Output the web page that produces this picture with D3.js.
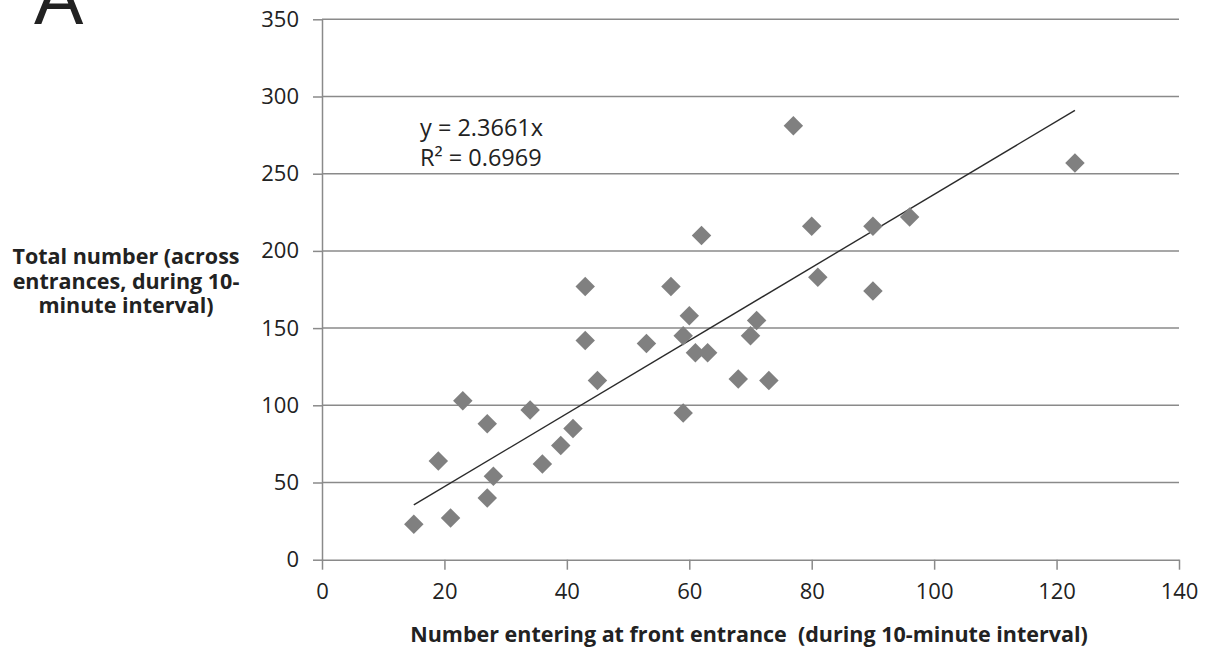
<!DOCTYPE html>
<html lang="en">
  <head>
    <meta charset="utf-8">
    <title>Front entrance vs total</title>
    <script src="https://d3js.org/d3.v7.js"></script>
    <style>
      body { margin: 0; background: #fff; }
      text { font-family: "Open Sans", sans-serif; fill: #222; white-space: pre; }
    </style>
  </head>
  <body>
    <script>

  // width and height
  var w = 1208;
  var h = 653;
  var margin = {top: 19.3, right: 29, bottom: 93.3, left: 322};

  // data
  var frontEntrance = [15, 19, 21, 23, 27, 27, 28, 34, 36, 39, 41, 43, 43, 45, 53, 57, 59,
                       59, 60, 61, 63, 62, 68, 70, 71, 73, 77, 80, 81, 90, 90, 96, 123];
  var totalNumber = [23, 64, 27, 103, 88, 40, 54, 97, 62, 74, 85, 142, 177, 116, 140, 177, 145,
                     95, 158, 134, 134, 210, 117, 145, 155, 116, 281, 216, 183, 216, 174, 222, 257];
  var xTicks = [0, 20, 40, 60, 80, 100, 120, 140];
  var yTicks = [0, 50, 100, 150, 200, 250, 300, 350];
  var slope = 2.3661;
  var equationLines = ["y = 2.3661x", "R² = 0.6969"];
  var yTitleLines = ["Total number (across", "entrances, during 10-", "minute interval)"];
  var xTitle = "Number entering at front entrance  (during 10-minute interval)";

  var points = frontEntrance.map((x, i) => ({x: x, y: totalNumber[i]}));

  // scales
  var xScale = d3.scaleLinear()
    .domain([0, 140])
    .range([margin.left, w - margin.right]);

  var yScale = d3.scaleLinear()
    .domain([0, 350])
    .range([h - margin.bottom, margin.top]);

  var svg = d3.select("body")
    .append("svg")
    .attr("width", w)
    .attr("height", h);

  // horizontal gridlines
  svg.append("g")
    .selectAll("line")
    .data(yTicks.slice(1))
    .enter()
    .append("line")
    .attr("x1", xScale(0))
    .attr("x2", xScale(140))
    .attr("y1", d => yScale(d))
    .attr("y2", d => yScale(d))
    .attr("stroke", "#8a8a8a")
    .attr("stroke-width", 1.5);

  // axes
  var xAxis = d3.axisBottom(xScale)
    .tickValues(xTicks)
    .tickSizeInner(10)
    .tickSizeOuter(0)
    .tickPadding(14);

  var yAxis = d3.axisLeft(yScale)
    .tickValues(yTicks)
    .tickSizeInner(9)
    .tickSizeOuter(0)
    .tickPadding(14);

  var gx = svg.append("g")
    .attr("transform", `translate(0, ${yScale(0)})`)
    .call(xAxis);

  var gy = svg.append("g")
    .attr("transform", `translate(${xScale(0)}, 0)`)
    .call(yAxis);

  [gx, gy].forEach(function (g) {
    g.selectAll("path, line").attr("stroke", "#8a8a8a").attr("stroke-width", 1.5);
    g.selectAll("text")
      .style("font-family", "'Open Sans', sans-serif")
      .style("font-size", "22px")
      .attr("fill", "#333");
  });

  // trend line through origin, over the data range
  var xExt = d3.extent(frontEntrance);
  svg.append("line")
    .attr("x1", xScale(xExt[0]))
    .attr("y1", yScale(xExt[0] * slope))
    .attr("x2", xScale(xExt[1]))
    .attr("y2", yScale(xExt[1] * slope))
    .attr("stroke", "#2b2b2b")
    .attr("stroke-width", 1.4);

  // diamond markers
  var diamond = d3.symbol().type(d3.symbolSquare).size(190);
  svg.append("g")
    .selectAll("path")
    .data(points)
    .enter()
    .append("path")
    .attr("d", diamond)
    .attr("transform", d => `translate(${xScale(d.x)}, ${yScale(d.y)}) rotate(45)`)
    .attr("fill", "#808080");

  // equation label
  svg.append("g")
    .selectAll("text")
    .data(equationLines)
    .enter()
    .append("text")
    .attr("x", 420)
    .attr("y", (d, i) => 136 + i * 30)
    .style("font-size", "23.5px")
    .text(d => d);

  // y title
  svg.append("g")
    .selectAll("text")
    .data(yTitleLines)
    .enter()
    .append("text")
    .attr("x", 126)
    .attr("y", (d, i) => 264 + i * 24.5)
    .attr("text-anchor", "middle")
    .style("font-size", "21.5px")
    .style("font-weight", "bold")
    .attr("fill", "#111")
    .text(d => d);

  // x title
  svg.append("text")
    .attr("x", 749)
    .attr("y", 642)
    .attr("text-anchor", "middle")
    .style("font-size", "21.5px")
    .style("font-weight", "bold")
    .attr("fill", "#111")
    .text(xTitle);

  // panel letter
  svg.append("text")
    .attr("x", 34)
    .attr("y", 24)
    .style("font-family", "'Liberation Sans', Arial, sans-serif")
    .style("font-size", "74px")
    .attr("fill", "#000")
    .text("A");

    </script>
  </body>
</html>
